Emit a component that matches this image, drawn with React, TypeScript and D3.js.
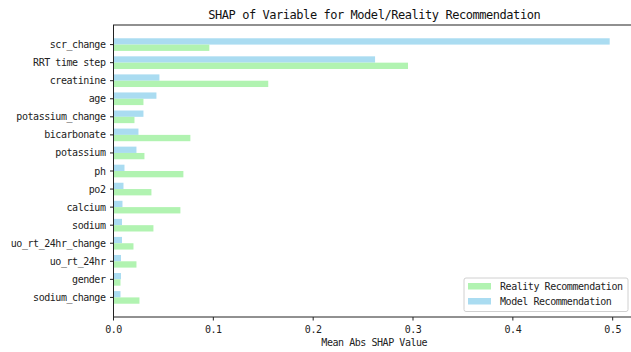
import React, { useRef, useEffect } from 'react';
import * as d3 from 'd3';

const features = [
  'scr_change', 'RRT time step', 'creatinine', 'age', 'potassium_change',
  'bicarbonate', 'potassium', 'ph', 'po2', 'calcium', 'sodium',
  'uo_rt_24hr_change', 'uo_rt_24hr', 'gender', 'sodium_change',
];
const modelValues = [
  0.497, 0.262, 0.046, 0.043, 0.030, 0.025, 0.023, 0.011, 0.010, 0.009,
  0.0085, 0.0085, 0.0075, 0.0075, 0.007,
];
const realityValues = [
  0.096, 0.295, 0.155, 0.030, 0.021, 0.077, 0.031, 0.070, 0.038, 0.067,
  0.040, 0.020, 0.023, 0.007, 0.026,
];
const xTicks = [0, 0.1, 0.2, 0.3, 0.4, 0.5];

const W = 631;
const H = 352;
const FONT = '"DejaVu Sans Mono", "Liberation Mono", monospace';
const FS = 10;
const LS = -0.45;
const BLUE = '#aadcf1';
const GREEN = '#b1f3b1';

export default function App() {
  const svgRef = useRef<SVGSVGElement>(null);

  useEffect(() => {
    const svg = d3.select(svgRef.current);
    svg.selectAll('*').remove();

    const left = 113.5, right = 635, top = 25, bottom = 317;
    const barH = 0.35;

    const x = d3.scaleLinear().domain([0, 0.52235]).range([left, right]);
    // inverted category axis, like matplotlib barh + invert_yaxis
    const y = d3.scaleLinear().domain([-1.085, features.length - 1 + 1.085]).range([top, bottom]);

    const g = svg.append('g');

    // model bars (above the tick)
    g.selectAll('rect.model')
      .data(modelValues)
      .join('rect')
      .attr('class', 'model')
      .attr('x', x(0))
      .attr('y', (_, i) => y(i - barH))
      .attr('width', d => x(d) - x(0))
      .attr('height', y(barH) - y(0))
      .attr('fill', BLUE);

    // reality bars (below the tick)
    g.selectAll('rect.reality')
      .data(realityValues)
      .join('rect')
      .attr('class', 'reality')
      .attr('x', x(0))
      .attr('y', (_, i) => y(i))
      .attr('width', d => x(d) - x(0))
      .attr('height', y(barH) - y(0))
      .attr('fill', GREEN);

    // frame: left, top, bottom (right spine falls off the canvas)
    const spine = '#222';
    g.append('rect')
      .attr('x', left)
      .attr('y', top)
      .attr('width', right - left)
      .attr('height', bottom - top)
      .attr('fill', 'none')
      .attr('stroke', spine)
      .attr('stroke-width', 1);

    // y ticks + labels
    const yt = g.selectAll('g.ytick').data(features).join('g')
      .attr('class', 'ytick')
      .attr('transform', (_, i) => `translate(0,${y(i)})`);
    yt.append('line')
      .attr('x1', left - 3.5).attr('x2', left)
      .attr('stroke', spine);
    yt.append('text')
      .attr('x', left - 8)
      .attr('dy', '0.35em')
      .attr('text-anchor', 'end')
      .attr('font-family', FONT)
      .attr('font-size', FS)
      .attr('letter-spacing', LS)
      .attr('fill', '#222')
      .text(d => d);

    // x ticks + labels
    const xt = g.selectAll('g.xtick').data(xTicks).join('g')
      .attr('class', 'xtick')
      .attr('transform', d => `translate(${x(d)},${bottom})`);
    xt.append('line')
      .attr('y2', 3.5)
      .attr('stroke', spine);
    xt.append('text')
      .attr('y', 16)
      .attr('text-anchor', 'middle')
      .attr('font-family', FONT)
      .attr('font-size', FS)
      .attr('letter-spacing', LS)
      .attr('fill', '#222')
      .text(d => d3.format('.1f')(d));

    // axis label
    svg.append('text')
      .attr('x', (left + right) / 2)
      .attr('y', 346)
      .attr('text-anchor', 'middle')
      .attr('font-family', FONT)
      .attr('font-size', FS)
      .attr('letter-spacing', LS)
      .attr('fill', '#222')
      .text('Mean Abs SHAP Value');

    // title
    svg.append('text')
      .attr('x', (left + right) / 2)
      .attr('y', 18.5)
      .attr('text-anchor', 'middle')
      .attr('font-family', FONT)
      .attr('font-size', 12)
      .attr('letter-spacing', -0.45)
      .attr('fill', '#111')
      .text('SHAP of Variable for Model/Reality Recommendation');

    // legend
    const lg = svg.append('g').attr('transform', 'translate(464,278)');
    lg.append('rect')
      .attr('width', 164)
      .attr('height', 33.5)
      .attr('rx', 2)
      .attr('fill', 'white')
      .attr('fill-opacity', 0.8)
      .attr('stroke', '#d0d0d0');
    const items = [
      { label: 'Reality Recommendation', color: GREEN },
      { label: 'Model Recommendation', color: BLUE },
    ];
    const li = lg.selectAll('g.item').data(items).join('g')
      .attr('class', 'item')
      .attr('transform', (_, i) => `translate(4,${5 + i * 15})`);
    li.append('rect')
      .attr('width', 23)
      .attr('height', 6.5)
      .attr('fill', d => d.color);
    li.append('text')
      .attr('x', 32)
      .attr('y', 6.5)
      .attr('font-family', FONT)
      .attr('font-size', FS)
      .attr('letter-spacing', LS)
      .attr('fill', '#222')
      .text(d => d.label);
  }, []);

  return (
    <svg
      ref={svgRef}
      width={W}
      height={H}
      style={{ position: 'absolute', left: 0, top: 0, background: 'white' }}
    />
  );
}
